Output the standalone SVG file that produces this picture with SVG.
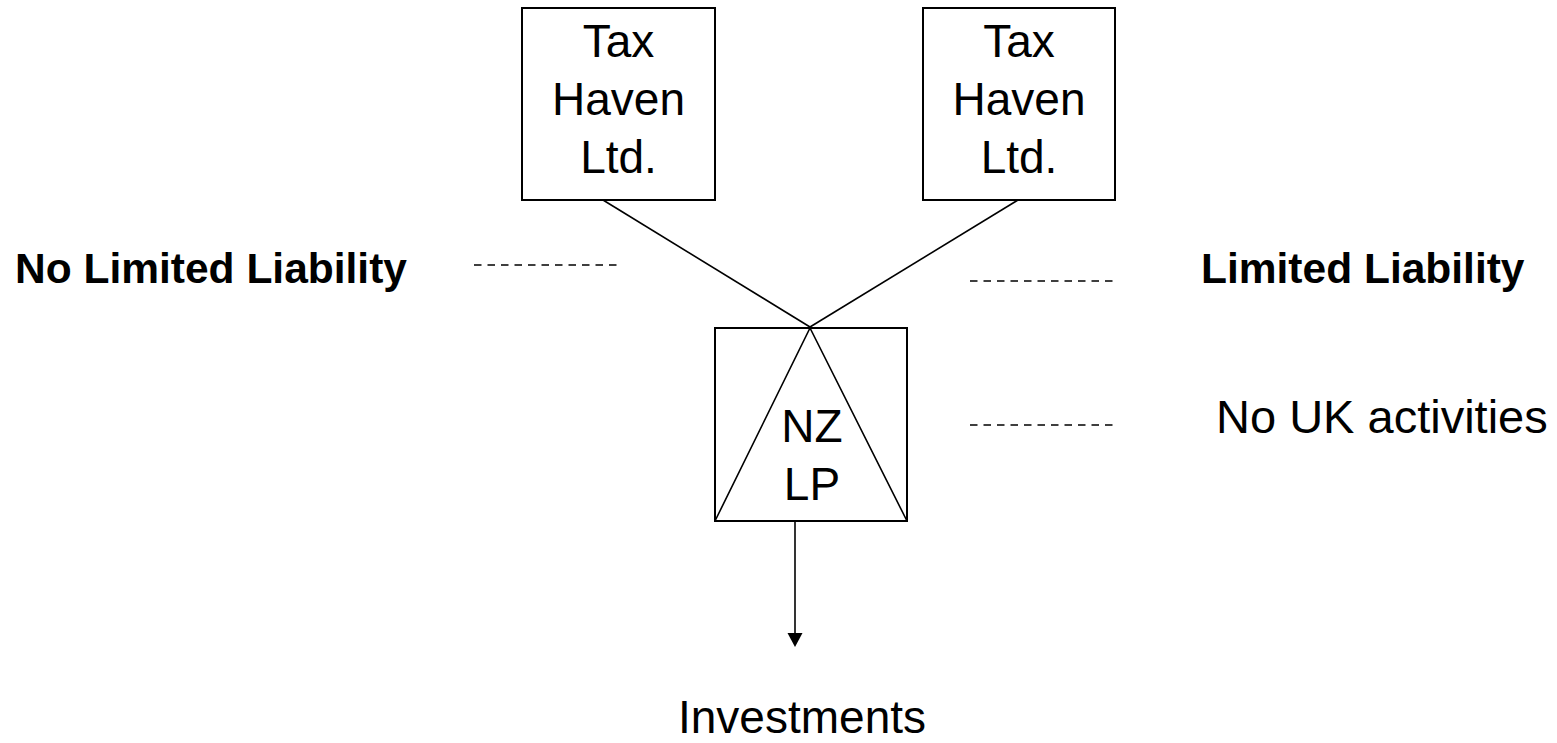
<svg xmlns="http://www.w3.org/2000/svg" width="1557" height="743" viewBox="0 0 1557 743">
<style>
.box{fill:#fff;stroke:#000;stroke-width:2}
.ln{fill:none;stroke:#000;stroke-width:1.6}
.dash{fill:none;stroke:#000;stroke-width:1.5;stroke-dasharray:7.5,6}
.t{font-family:"Liberation Sans",Arial,sans-serif;font-size:46px;fill:#000;text-anchor:middle}
.b{font-family:"Liberation Sans",Arial,sans-serif;font-size:42.5px;font-weight:bold;fill:#000}
.r{font-family:"Liberation Sans",Arial,sans-serif;font-size:47px;fill:#000}
</style>
<g id="connectors">
<line class="ln" x1="603" y1="200" x2="810" y2="327"/>
<line class="ln" x1="1018" y1="200" x2="810" y2="327"/>
<line class="ln" x1="795" y1="521" x2="795" y2="634"/>
<polygon points="787.5,633 802.5,633 795,647" fill="#000"/>
<line class="dash" x1="474" y1="265" x2="620" y2="265"/>
<line class="dash" x1="970" y1="281" x2="1116" y2="281"/>
<line class="dash" x1="970" y1="425" x2="1116" y2="425"/>
</g>
<g id="taxhaven1">
<rect class="box" x="522" y="8" width="193" height="192"/>
<text class="t" x="618.5" y="57">Tax</text>
<text class="t" x="618.5" y="115">Haven</text>
<text class="t" x="618.5" y="173">Ltd.</text>
</g>
<g id="taxhaven2">
<rect class="box" x="923" y="8" width="192" height="192"/>
<text class="t" x="1019" y="57">Tax</text>
<text class="t" x="1019" y="115">Haven</text>
<text class="t" x="1019" y="173">Ltd.</text>
</g>
<g id="nzlp">
<rect class="box" x="715" y="328" width="192" height="193"/>
<polyline class="ln" points="715,521 810,328 907,521"/>
<text class="t" x="812" y="442">NZ</text>
<text class="t" x="812" y="500">LP</text>
</g>
<g id="labels">
<text class="b" x="15" y="283">No Limited Liability</text>
<text class="b" x="1201" y="283">Limited Liability</text>
<text class="r" x="1216" y="433">No UK activities</text>
<text class="t" x="802" y="733">Investments</text>
</g>
</svg>
